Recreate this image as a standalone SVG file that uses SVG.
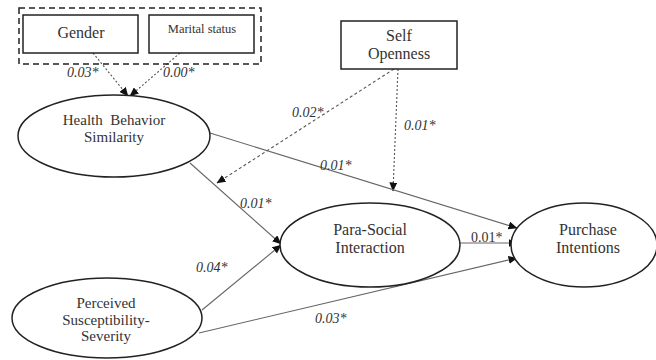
<svg xmlns="http://www.w3.org/2000/svg" width="656" height="360" viewBox="0 0 656 360" font-family="'Liberation Serif', 'DejaVu Serif', serif">
<style>
text{font-family:'Liberation Serif','DejaVu Serif',serif}
.node{fill:#fff;stroke:#222;stroke-width:1.5}
.t{fill:#333;text-anchor:middle}
.lbl{fill:#333;font-style:italic;font-size:14px}
.ln{stroke:#666;stroke-width:1.1;fill:none;marker-end:url(#ah)}
.dot{stroke:#555;stroke-width:1.1;fill:none;stroke-dasharray:2,2;marker-end:url(#ah)}
.dash{stroke:#555;stroke-width:1.1;fill:none;stroke-dasharray:3,2.5;marker-end:url(#ah)}
</style>
<defs>
<marker id="ah" markerWidth="9" markerHeight="8" refX="8.5" refY="4" orient="auto" markerUnits="userSpaceOnUse">
<path d="M0,0 L9,4 L0,8 Z" fill="#111"/>
</marker>
</defs>
<rect width="656" height="360" fill="#fff"/>
<g id="connectors">
<line class="dot" x1="93" y1="53" x2="128" y2="96"/>
<line class="dot" x1="180" y1="53" x2="130" y2="96"/>
<line class="dot" x1="398" y1="69" x2="393" y2="191"/>
<line class="dash" x1="394" y1="69" x2="217" y2="183"/>
<line class="ln" x1="210" y1="133" x2="517" y2="228"/>
<line class="ln" x1="190" y1="163" x2="281" y2="244"/>
<line class="ln" x1="202" y1="310" x2="281" y2="245"/>
<line class="ln" x1="199" y1="333" x2="517" y2="258"/>
<line class="ln" x1="460" y1="243" x2="517" y2="243"/>
</g>
<g id="labels">
<text class="lbl" x="67" y="77">0.03*</text>
<text class="lbl" x="163" y="77">0.00*</text>
<text class="lbl" x="292" y="117">0.02*</text>
<text class="lbl" x="404" y="130">0.01*</text>
<text class="lbl" x="320" y="170">0.01*</text>
<text class="lbl" x="240" y="208">0.01*</text>
<text class="lbl" x="196" y="272">0.04*</text>
<text class="lbl" x="315" y="323">0.03*</text>
<text class="lbl" x="471" y="242" style="font-style:normal">0.01*</text>
</g>
<g id="control-group">
<rect x="19" y="8" width="242" height="56" fill="none" stroke="#222" stroke-width="1.5" stroke-dasharray="6,4"/>
</g>
<g id="gender">
<rect class="node" x="23" y="15" width="115" height="38"/>
<text class="t" x="81" y="38" font-size="16">Gender</text>
</g>
<g id="marital-status">
<rect class="node" x="149" y="15" width="105" height="38"/>
<text class="t" x="202" y="33" font-size="12.5">Marital status</text>
</g>
<g id="self-openness">
<rect class="node" x="341" y="21" width="116" height="48"/>
<text class="t" x="399" y="41" font-size="16">Self</text>
<text class="t" x="399" y="59" font-size="16">Openness</text>
</g>
<g id="health-behavior-similarity">
<ellipse class="node" cx="114" cy="136" rx="96" ry="41"/>
<text class="t" x="114" y="125" font-size="15" xml:space="preserve">Health  Behavior</text>
<text class="t" x="114" y="142" font-size="15">Similarity</text>
</g>
<g id="para-social-interaction">
<ellipse class="node" cx="370" cy="245" rx="90" ry="42"/>
<text class="t" x="370" y="235" font-size="16">Para-Social</text>
<text class="t" x="370" y="253" font-size="16">Interaction</text>
</g>
<g id="purchase-intentions">
<ellipse class="node" cx="584" cy="245" rx="73" ry="42"/>
<text class="t" x="588" y="235" font-size="16">Purchase</text>
<text class="t" x="588" y="253" font-size="16">Intentions</text>
</g>
<g id="perceived-susceptibility-severity">
<ellipse class="node" cx="107" cy="318" rx="95" ry="40"/>
<text class="t" x="106" y="308" font-size="15">Perceived</text>
<text class="t" x="106" y="325" font-size="15">Susceptibility-</text>
<text class="t" x="106" y="341" font-size="15">Severity</text>
</g>
</svg>
